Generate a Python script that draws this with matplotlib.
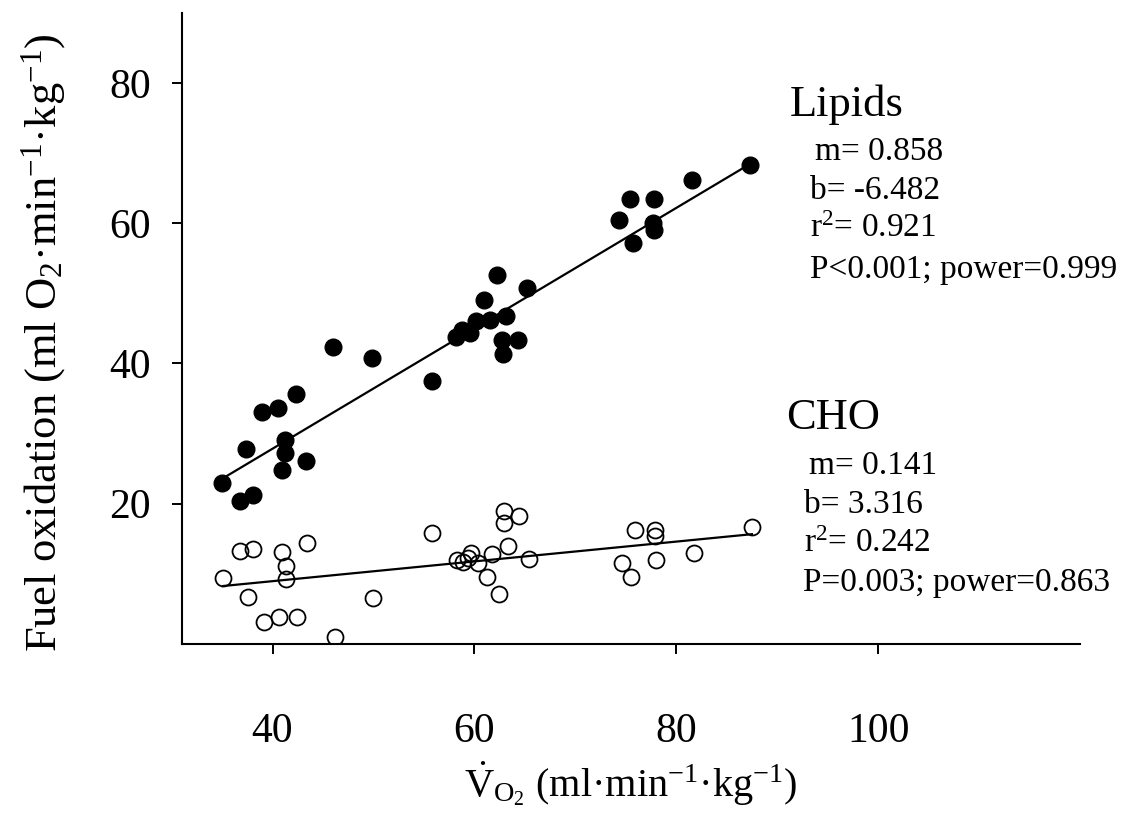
import matplotlib
matplotlib.use("Agg")
import matplotlib.pyplot as plt
import numpy as np

# VO2 (ml/min/kg) vs fuel oxidation
lipid_vo2 = [35.0, 36.8, 38.1, 37.4, 39.0, 40.5, 42.3, 41.2, 41.2, 40.9, 43.3,
             46.0, 49.9, 55.8, 58.2, 58.8, 59.6, 60.2, 61.0, 61.5, 62.2, 63.1,
             65.2, 62.7, 64.3, 62.8, 74.3, 75.4, 77.8, 77.7, 77.8, 75.7, 81.6, 87.3]
lipid_ox = [22.9, 20.4, 21.3, 27.8, 33.0, 33.7, 35.6, 29.1, 27.2, 24.8, 26.1,
            42.3, 40.7, 37.5, 43.8, 44.7, 44.3, 46.0, 49.0, 46.2, 52.6, 46.7,
            50.7, 43.3, 43.4, 41.4, 60.4, 63.4, 63.4, 60.0, 59.0, 57.1, 66.2, 68.3]

cho_vo2 = [35.1, 36.8, 38.1, 37.6, 39.2, 40.6, 42.4, 40.9, 41.3, 41.3, 43.4,
           46.2, 50.0, 55.8, 58.3, 58.9, 59.7, 59.4, 60.4, 61.2, 61.7, 62.4,
           62.9, 62.9, 64.4, 63.3, 65.4, 74.6, 75.5, 75.9, 77.9, 77.9, 78.0,
           81.8, 87.5]
cho_ox = [9.4, 13.3, 13.6, 6.7, 3.1, 3.9, 3.8, 13.1, 11.1, 9.3, 14.4,
          1.0, 6.5, 15.8, 12.0, 11.7, 12.9, 12.2, 11.5, 9.5, 12.8, 7.1,
          18.9, 17.2, 18.3, 14.0, 12.1, 11.5, 9.5, 16.2, 16.3, 15.4, 12.0,
          12.9, 16.7]

# regression coefficients printed in the figure
lipid_fit = (0.858, -6.482)
cho_fit = (0.141, 3.316)

lipid_stats = ["m= 0.858", "b= -6.482", "r$^2$= 0.921", "P<0.001; power=0.999"]
cho_stats = ["m= 0.141", "b= 3.316", "r$^2$= 0.242", "P=0.003; power=0.863"]

x_ticks = [40, 60, 80, 100]
y_ticks = [20, 40, 60, 80]

W, H = 1138, 823

plt.rcParams["font.family"] = ["Liberation Serif", "DejaVu Serif"]
plt.rcParams["mathtext.fontset"] = "custom"
plt.rcParams["mathtext.rm"] = "Liberation Serif"
plt.rcParams["mathtext.it"] = "Liberation Serif:italic"


def fig_xy(px: float, py: float) -> tuple[float, float]:
    return px / W, 1 - py / H


def draw_fit(ax, xs, coef) -> None:
    m, b = coef
    xx = np.array([min(xs), max(xs)])
    ax.plot(xx, m * xx + b, color="black", linewidth=1.6, zorder=2)


def main() -> None:
    fig = plt.figure(figsize=(W / 100, H / 100), dpi=100)
    ax = fig.add_axes([181.7 / W, 1 - 644 / H, (1080 - 181.7) / W, (644 - 12.6) / H])

    draw_fit(ax, lipid_vo2, lipid_fit)
    draw_fit(ax, cho_vo2, cho_fit)

    ax.plot(lipid_vo2, lipid_ox, "o", color="black", markersize=12,
            linestyle="none", zorder=3)
    ax.plot(cho_vo2, cho_ox, "o", markerfacecolor="none", markeredgecolor="black",
            markeredgewidth=1.3, markersize=11.5, linestyle="none", zorder=3)

    ax.set_xlim(31, 120)
    ax.set_ylim(0, 90)
    ax.set_xticks(x_ticks)
    ax.set_yticks(y_ticks)
    ax.spines["top"].set_visible(False)
    ax.spines["right"].set_visible(False)
    for side in ("left", "bottom"):
        ax.spines[side].set_linewidth(1.5)
    ax.tick_params(axis="both", direction="out", length=7, width=1.4, labelsize=30)
    ax.tick_params(axis="x", pad=42)
    ax.tick_params(axis="y", pad=15)

    ax.set_xlabel(r"$\dot{\mathrm{V}}_{\mathrm{O}_2}$ (ml·min$^{-1}$·kg$^{-1}$)",
                  fontsize=29, labelpad=6)
    ax.set_ylabel("Fuel oxidation (ml O$_2$·min$^{-1}$·kg$^{-1}$)", fontsize=32)
    ax.yaxis.set_label_coords(-0.127, 0.478)

    # annotation blocks on the right
    fig.text(*fig_xy(790, 105), "Lipids", fontsize=32, va="center", ha="left")
    for (px, py), line in zip([(815, 152), (810, 191), (810, 229), (810, 270)], lipid_stats):
        fig.text(*fig_xy(px, py), line, fontsize=24, va="center", ha="left")

    fig.text(*fig_xy(786, 418), "CHO", fontsize=32, va="center", ha="left")
    for (px, py), line in zip([(809, 466), (804, 505), (804, 544), (803, 583)], cho_stats):
        fig.text(*fig_xy(px, py), line, fontsize=24, va="center", ha="left")

    fig.savefig("out.png", dpi=100)
    plt.close(fig)


if __name__ == "__main__":
    main()
